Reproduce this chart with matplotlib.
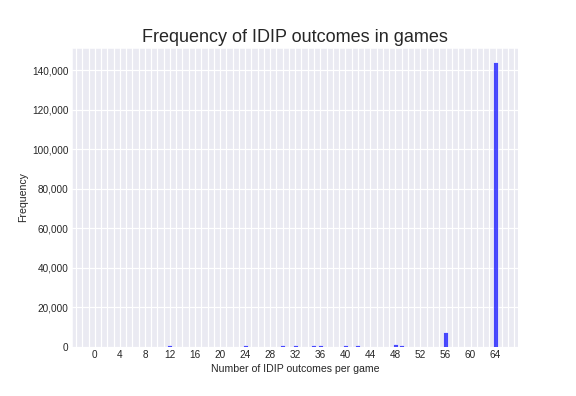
import numpy as np
import matplotlib
matplotlib.use("Agg")
import matplotlib.pyplot as plt
import seaborn as sns
from matplotlib.ticker import FuncFormatter, MultipleLocator

outcomes = [12, 24, 30, 32, 35, 36, 40, 42, 48, 49, 56, 64]
counts = [1000, 1000, 950, 1000, 1000, 1050, 1000, 1000, 1700, 1150, 7300, 144000]
xtick_vals = list(range(0, 65, 4))

sns.set_style("darkgrid")
plt.rcParams['font.family'] = ['Liberation Sans', 'DejaVu Sans']

fig, ax = plt.subplots(figsize=(8, 5.5), dpi=72)
fig.subplots_adjust(left=0.125, right=0.9, top=0.879, bottom=0.124)

ax.hist(outcomes, bins=np.arange(-0.5, 65.5, 1), weights=counts, rwidth=0.8,
        color='blue', alpha=0.7)

ax.set_xticks(xtick_vals)
ax.xaxis.set_minor_locator(MultipleLocator(1))
ax.grid(which='major', color='white', linewidth=1.2)
ax.grid(which='minor', axis='x', color='white', linewidth=1.2)
ax.tick_params(which='both', length=0)
ax.yaxis.set_major_formatter(FuncFormatter(lambda v, p: f"{int(v):,}"))
ax.tick_params(labelsize=10)

ax.set_title("Frequency of IDIP outcomes in games", fontsize=18, color='#262626')
ax.set_xlabel("Number of IDIP outcomes per game", fontsize=10.5)
ax.set_ylabel("Frequency", fontsize=10.5)

fig.savefig("out.png", dpi=72)
